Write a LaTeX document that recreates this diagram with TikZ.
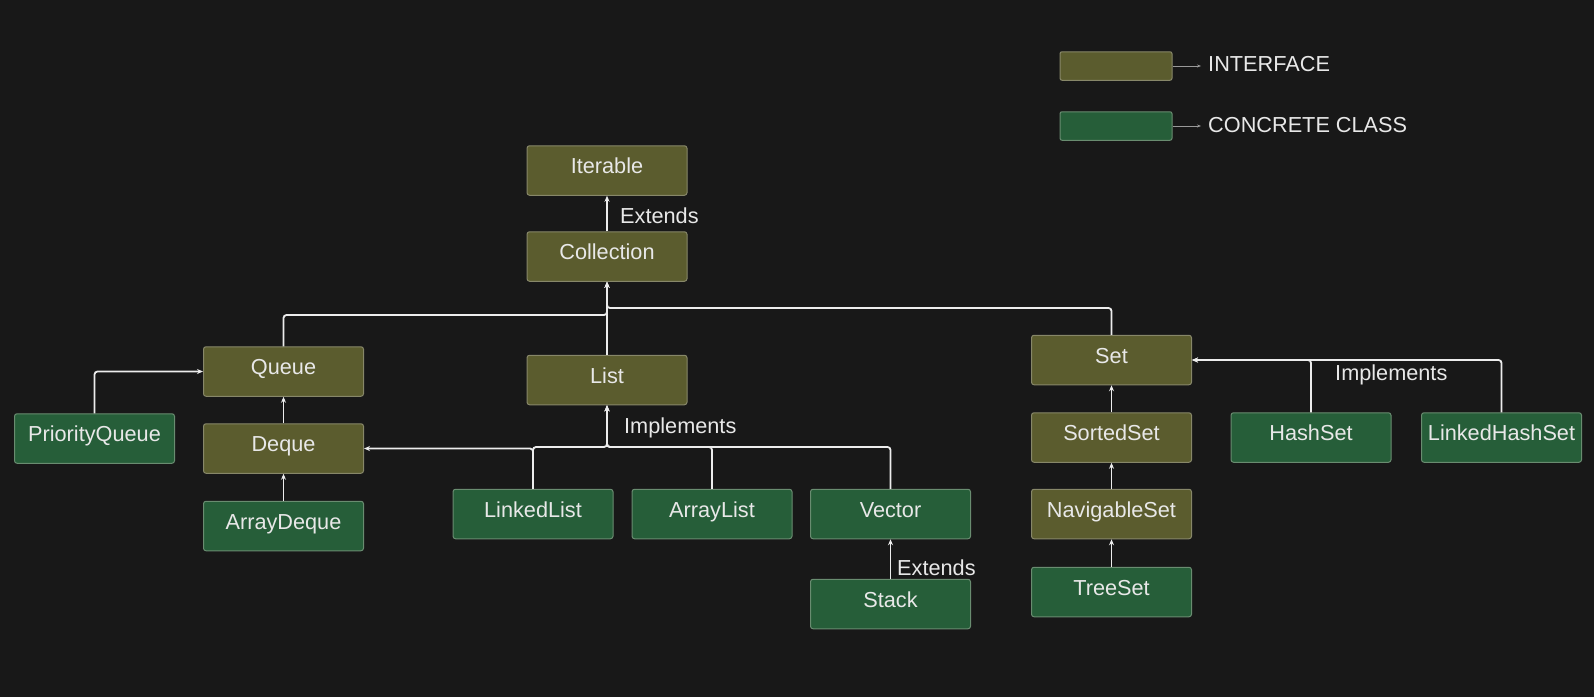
\documentclass[tikz,border=0pt]{standalone}
\usepackage{fontspec}
\setmainfont{Liberation Sans}
\usetikzlibrary{arrows.meta}
\definecolor{bg}{RGB}{24,24,24}
\definecolor{ifill}{RGB}{91,92,46}
\definecolor{cfill}{RGB}{38,94,57}
\definecolor{iborder}{RGB}{135,135,105}
\definecolor{cborder}{RGB}{105,140,112}
\definecolor{txt}{RGB}{232,232,232}
\definecolor{ln}{RGB}{236,236,236}
\tikzset{
  box/.style={rounded corners=2.5pt, line width=1pt, minimum width=160pt, minimum height=49.5pt,
    inner sep=0pt, text height=16pt, text depth=10pt, text=txt, font=\fontsize{21.7}{26}\selectfont},
  ibox/.style={box, fill=ifill, draw=iborder},
  cbox/.style={box, fill=cfill, draw=cborder},
  lbox/.style={rounded corners=2pt, line width=1pt, minimum width=112pt, minimum height=28.5pt, inner sep=0pt},
  lbl/.style={text=txt, font=\fontsize{21.7}{26}\selectfont, inner sep=0pt, anchor=west},
  conn/.style={draw=ln, line width=1.8pt, rounded corners=3pt, -{Stealth[length=6pt,width=5pt]}},
  legconn/.style={draw=gray!80, line width=1pt, -{Stealth[length=4pt,width=3pt]}}
}
\begin{document}
\begin{tikzpicture}[x=1pt,y=-1pt]
\fill[bg] (0,0) rectangle (1594,697);
\useasboundingbox (0,0) rectangle (1594,697);

% legend
\node[lbox, fill=ifill, draw=iborder] (li) at (1116,66) {};
\node[lbox, fill=cfill, draw=cborder] (lc) at (1116,126) {};
\coordinate (lia) at (1201,66);
\coordinate (lca) at (1201,126);
\draw[legconn] (li.east) -- (lia);
\draw[legconn] (lc.east) -- (lca);
\node[lbl] (lit) at (1208,64) {INTERFACE};
\node[lbl] (lct) at (1208,125) {CONCRETE CLASS};

% nodes
\node[ibox] (iterable) at (607,170.5) {Iterable};
\node[ibox] (collection) at (607,256.5) {Collection};
\node[ibox] (queue) at (283.5,371.5) {Queue};
\node[ibox] (deque) at (283.5,448.5) {Deque};
\node[cbox] (arraydeque) at (283.5,526) {ArrayDeque};
\node[cbox] (pq) at (94.5,438.5) {PriorityQueue};
\node[ibox] (list) at (607,380) {List};
\node[cbox] (linkedlist) at (533,514) {LinkedList};
\node[cbox] (arraylist) at (712,514) {ArrayList};
\node[cbox] (vector) at (890.5,514) {Vector};
\node[cbox] (stack) at (890.5,604) {Stack};
\node[ibox] (set) at (1111.5,360) {Set};
\node[ibox] (sortedset) at (1111.5,437.5) {SortedSet};
\node[ibox] (navset) at (1111.5,514) {NavigableSet};
\node[cbox] (treeset) at (1111.5,592) {TreeSet};
\node[cbox] (hashset) at (1311,437.5) {HashSet};
\node[cbox] (lhs) at (1501.5,437.5) {LinkedHashSet};

% junction coordinates
\coordinate (jl) at (607,315);
\coordinate (jr) at (607,308);
\coordinate (jimp) at (607,447);

% connectors
\draw[conn] (collection.north) -- (iterable.south);
\node[lbl] (ext1) at (620,216) {Extends};

\draw[conn] (queue.north) |- (jl) -- (collection.south);
\draw[conn] (list.north) -- (collection.south);
\draw[conn] (set.north) |- (jr) -- (collection.south);

\draw[conn] (pq.north) |- (queue.west);
\draw[conn] (deque.north) -- (queue.south);
\draw[conn] (arraydeque.north) -- (deque.south);

\draw[conn] (linkedlist.north) |- (deque.east);
\draw[conn] (linkedlist.north) |- (jimp) -- (list.south);
\draw[conn] (arraylist.north) |- (jimp) -- (list.south);
\draw[conn] (vector.north) |- (jimp) -- (list.south);
\node[lbl] (imp1) at (624,428) {Implements};

\draw[conn] (stack.north) -- (vector.south);
\node[lbl] (ext2) at (897,568) {Extends};

\draw[conn] (sortedset.north) -- (set.south);
\draw[conn] (navset.north) -- (sortedset.south);
\draw[conn] (treeset.north) -- (navset.south);

\draw[conn] (hashset.north) |- (set.east);
\draw[conn] (lhs.north) |- (set.east);
\node[lbl] (imp2) at (1335,375) {Implements};
\end{tikzpicture}
\end{document}
